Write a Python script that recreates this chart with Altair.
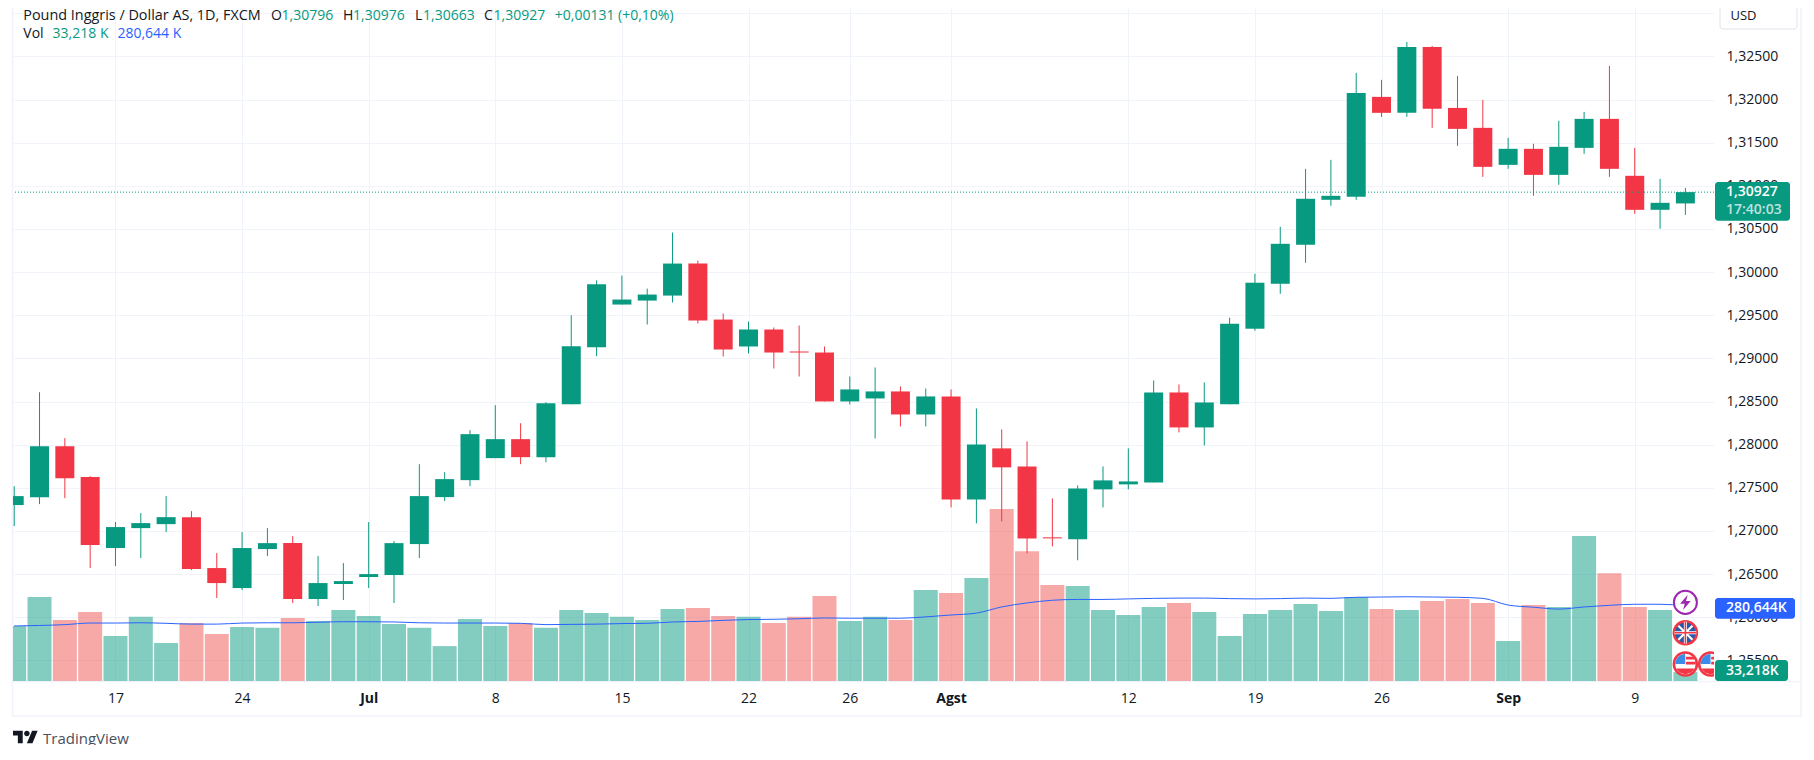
import altair as alt
import pandas as pd

opens = [1.27300,1.27392,1.27983,1.27624,1.26802,1.27033,1.27079,1.27160,1.26570,1.26338,1.26790,1.26859,1.26211,1.26385,1.26466,1.26489,1.26848,1.27392,1.27589,1.27844,1.28064,1.27855,1.28469,1.29129,
         1.29624,1.29670,1.29728,1.30099,1.29450,1.29138,1.29335,1.29080,1.29068,1.28501,1.28536,1.28617,1.28350,1.28559,1.27366,1.27957,1.27748,1.26926,1.26903,1.27482,1.27540,1.27563,1.28605,1.28200,
         1.28469,1.29344,1.29865,1.30317,1.30838,1.30873,1.32031,1.31846,1.32610,1.31903,1.31672,1.31243,1.31429,1.31127,1.31440,1.31776,1.31116,1.30722,1.30796]
highs = [1.27519,1.28608,1.28075,1.27635,1.27103,1.27207,1.27404,1.27230,1.26744,1.26987,1.27033,1.26940,1.26709,1.26628,1.27103,1.26883,1.27774,1.27682,1.28168,1.28457,1.28249,1.28492,1.29500,1.29905,
         1.29960,1.29809,1.30458,1.30134,1.29520,1.29427,1.29358,1.29381,1.29138,1.28790,1.28895,1.28675,1.28651,1.28640,1.28420,1.28177,1.28038,1.27378,1.27528,1.27748,1.27957,1.28744,1.28698,1.28721,
         1.29472,1.29981,1.30525,1.31197,1.31301,1.32309,1.32228,1.32668,1.32621,1.32274,1.31996,1.31556,1.31487,1.31753,1.31857,1.32390,1.31440,1.31081,1.30976]
lows = [1.27056,1.27311,1.27380,1.26570,1.26593,1.26686,1.26987,1.26547,1.26223,1.26315,1.26709,1.26165,1.26130,1.26199,1.26338,1.26165,1.26686,1.27346,1.27519,1.27844,1.27774,1.27797,1.28469,1.29025,
        1.29624,1.29393,1.29647,1.29404,1.29022,1.29057,1.28883,1.28790,1.28501,1.28466,1.28072,1.28211,1.28211,1.27273,1.27088,1.27111,1.26741,1.26822,1.26660,1.27273,1.27482,1.27563,1.28142,1.27991,
        1.28469,1.29321,1.29749,1.30108,1.30768,1.30838,1.31799,1.31799,1.31672,1.31463,1.31104,1.31197,1.30884,1.31012,1.31371,1.31104,1.30676,1.30502,1.30663]
closes = [1.27404,1.27983,1.27612,1.26836,1.27045,1.27091,1.27160,1.26558,1.26396,1.26802,1.26859,1.26211,1.26396,1.26419,1.26500,1.26859,1.27404,1.27601,1.28122,1.28064,1.27855,1.28481,1.29141,1.29859,
          1.29682,1.29740,1.30099,1.29439,1.29103,1.29335,1.29068,1.29068,1.28501,1.28640,1.28617,1.28350,1.28559,1.27366,1.28003,1.27737,1.26914,1.26914,1.27493,1.27586,1.27574,1.28605,1.28200,1.28489,
          1.29402,1.29877,1.30328,1.30850,1.30884,1.32077,1.31846,1.32610,1.31892,1.31660,1.31220,1.31429,1.31127,1.31452,1.31776,1.31197,1.30722,1.30803,1.30927]
volumes = [205,313,227,257,168,239,142,216,175,201,198,235,224,265,242,212,198,130,231,205,216,198,265,253,
           239,227,268,272,242,239,216,239,317,224,239,227,339,328,384,641,484,358,354,265,246,276,291,257,
           168,250,265,287,261,313,268,265,298,306,291,149,283,276,540,402,276,265,33.218]
vol_ma = [205,207,210,216,216,217,215,212,212,216,217,217,219,221,221,220,217,216,216,216,215,210,211,212,
          214,215,220,222,226,229,230,232,235,234,234,234,239,246,253,276,291,301,304,304,306,308,309,309,
          307,306,307,309,308,312,313,314,313,312,308,283,275,268,276,282,286,286,280.644]

tick_idx = [4,9,14,19,24,29,33,37,44,49,54,59,64]
tick_txt = ["17","24","Jul","8","15","22","26","Agst","12","19","26","Sep","9"]
month_idx = [14,37,59]
price_ticks = [1.255,1.26,1.265,1.27,1.275,1.28,1.285,1.29,1.295,1.30,1.305,1.31,1.315,1.32,1.325,1.33]
last_price = 1.30927

GREEN, RED, BLUE, INK, LINE = "#089981", "#F23645", "#2962FF", "#131722", "#F0F3FA"
VOL_RED = "#EF5350"
FONT = "Open Sans"
BODY_HALF, VOL_HALF = 0.375, 0.474

df = pd.DataFrame({"i": range(len(opens)), "o": opens, "h": highs, "l": lows, "c": closes,
                   "v": volumes, "ma": vol_ma})
df["col"] = [GREEN if c >= o else RED for o, c in zip(opens, closes)]
df["vcol"] = [GREEN if c >= o else VOL_RED for o, c in zip(opens, closes)]
df["bl"], df["br"] = df["i"] - BODY_HALF, df["i"] + BODY_HALF
df["vl"], df["vr"] = df["i"] - VOL_HALF, df["i"] + VOL_HALF
df["v0"] = 0

W, H = 1701, 673
xs = alt.Scale(domain=[-0.0474, 67.13], nice=False, zero=False)
ys = alt.Scale(domain=[1.25261, 1.33061], nice=False, zero=False)
vs = alt.Scale(domain=[0, 2508.3], nice=False, zero=False)
X = alt.X("i:Q", scale=xs, axis=None)

lab_map = "{" + ",".join(f"{k}:'{v}'" for k, v in zip(tick_idx, tick_txt)) + "}"
month_test = "||".join(f"datum.value=={m}" for m in month_idx)
x_axis = alt.Axis(values=tick_idx, labelExpr=f"{lab_map}[datum.value]", title=None, domain=False, ticks=False,
                  grid=True, gridColor=LINE, gridWidth=1, labelFont=FONT, labelFontSize=14, labelColor=INK,
                  labelPadding=10, labelFlush=False, labelOverlap=False,
                  labelFontWeight={"condition": {"test": month_test, "value": 700}, "value": 400})
y_axis = alt.Axis(values=price_ticks, orient="right", title=None, domain=False, ticks=False, grid=True,
                  gridColor=LINE, gridWidth=1, labelFont=FONT, labelFontSize=14, labelColor=INK,
                  labelPadding=12, labelAlign="left", labelOverlap=False, labelFlush=False,
                  labelExpr="datum.value>1.329?'':replace(format(datum.value,'.5f'),'.',',')")

base = alt.Chart(df)
axes = base.mark_rule(opacity=0).encode(alt.X("i:Q", scale=xs, axis=x_axis),
                                        alt.Y("l:Q", scale=ys, axis=y_axis), y2="h:Q")
vol = base.mark_bar(opacity=0.5, clip=True).encode(
    alt.X("vl:Q", scale=xs, axis=None), x2="vr:Q",
    y=alt.Y("v:Q", scale=vs, axis=None), y2="v0:Q", color=alt.Color("vcol:N", scale=None))
ma = base.mark_line(color=BLUE, strokeWidth=1, interpolate="monotone", clip=True).encode(
    X, alt.Y("ma:Q", scale=vs, axis=None))
wick = base.mark_rule(strokeWidth=1, clip=True).encode(X, alt.Y("l:Q", scale=ys, axis=None), y2="h:Q",
                                                       color=alt.Color("col:N", scale=None))
body = base.mark_bar(clip=True).encode(
    alt.X("bl:Q", scale=xs, axis=None), x2="br:Q",
    y=alt.Y("o:Q", scale=ys, axis=None), y2="c:Q", color=alt.Color("col:N", scale=None))
dots = alt.Chart(pd.DataFrame({"p": [last_price]})).mark_rule(color=GREEN, strokeWidth=1, strokeDash=[1, 2]).encode(
    alt.Y("p:Q", scale=ys, axis=None))


def icon(i_list, yk, shape, fill, size, **kw):
    d = pd.DataFrame({"i": i_list, "y": [yk] * len(i_list)})
    return alt.Chart(d).mark_point(shape=shape, filled=True, fill=fill, size=size, clip=True, opacity=1, **kw).encode(
        X, alt.Y("y:Q", scale=vs, axis=None))


BOLT = "M0.22,-0.72L-0.5,0.12L-0.06,0.12L-0.22,0.72L0.5,-0.12L0.06,-0.12Z"
UK_W = ("M-0.14,-1L0.14,-1L0.14,-0.14L1,-0.14L1,0.14L0.14,0.14L0.14,1L-0.14,1L-0.14,0.14L-1,0.14L-1,-0.14L-0.14,-0.14Z"
        "M-0.72,-0.58L-0.58,-0.72L0.72,0.58L0.58,0.72ZM0.58,-0.72L0.72,-0.58L-0.58,0.72L-0.72,0.58Z")
UK_R = ("M-0.07,-1L0.07,-1L0.07,-0.07L1,-0.07L1,0.07L0.07,0.07L0.07,1L-0.07,1L-0.07,0.07L-1,0.07L-1,-0.07L-0.07,-0.07Z")
US_B = "M-0.02,-0.98L-0.02,-0.02L-0.98,-0.02A0.98,0.98 0 0 1 -0.02,-0.98Z"
US_R = ("M0.05,-0.72L0.75,-0.72L0.9,-0.45L0.05,-0.45ZM0.05,-0.22L0.98,-0.22L1,0.03L0.05,0.03Z"
        "M-0.87,0.42L0.87,0.42A0.98,0.98 0 0 1 -0.87,0.42Z")

icons = [
    icon([66], 293, "circle", "white", 530, stroke="#9C27B0", strokeWidth=2),
    icon([66], 293, BOLT, "#9C27B0", 450),
    icon([66], 180, "circle", "#2A5AA8", 530, stroke=RED, strokeWidth=2.5),
    icon([66], 180, UK_W, "white", 470),
    icon([66], 180, UK_R, RED, 470),
    icon([66, 67], 63, "circle", "white", 530, stroke=RED, strokeWidth=2.5),
    icon([66, 67], 63, US_B, "#3D8BE8", 430),
    icon([66, 67], 63, US_R, RED, 430),
]

# Page furniture in plot pixels
rects = pd.DataFrame([
    (1707, 1784, -12, 21, "white", "#E0E3EB", 1),
    (1702, 1777, 174, 212.7, GREEN, GREEN, 0),
    (1702, 1782, 590, 610.7, BLUE, BLUE, 0),
    (1702, 1775, 652, 673, GREEN, GREEN, 0),
], columns=["x1", "x2", "y1", "y2", "fill", "line", "sw"])
PX = lambda c: alt.X(f"{c}:Q", scale=None, axis=None)
PY = lambda c: alt.Y(f"{c}:Q", scale=None, axis=None)
rect = alt.Chart(rects).mark_rect(cornerRadius=3).encode(
    PX("x1"), x2="x2:Q", y=PY("y1"), y2="y2:Q", fill=alt.Fill("fill:N", scale=None),
    stroke=alt.Stroke("line:N", scale=None), strokeWidth=alt.StrokeWidth("sw:Q", scale=None))

frame = pd.DataFrame([
    (-0.5, -0.5, 0, 708), (1788, 1788, 0, 708), (-1, 1789, 708, 708), (0, 1788, 673.5, 673.5)
], columns=["x1", "x2", "y1", "y2"])
frames = alt.Chart(frame).mark_rule(color=LINE, strokeWidth=1.6).encode(PX("x1"), x2="x2:Q", y=PY("y1"), y2="y2:Q")

HY = 7.5
texts = pd.DataFrame([
    (10.3, HY, "Pound Inggris / Dollar AS, 1D, FXCM", INK, 14.4),
    (257.9, HY, "O", INK, 14), (268.5, HY, "1,30796", GREEN, 14),
    (330, HY, "H", INK, 14), (340, HY, "1,30976", GREEN, 14),
    (402, HY, "L", INK, 14), (410, HY, "1,30663", GREEN, 14),
    (471, HY, "C", INK, 14), (480.5, HY, "1,30927", GREEN, 14),
    (541.8, HY, "+0,00131 (+0,10%)", GREEN, 14),
    (10.3, 25.5, "Vol", INK, 14), (39.6, 25.5, "33,218 K", GREEN, 14), (104.4, 25.5, "280,644 K", BLUE, 14),
    (1717.5, HY, "USD", INK, 13),
    (30, 731, "TradingView", "#4A4F5E", 15),
], columns=["x", "y", "t", "c", "fs"])
text = alt.Chart(texts).mark_text(align="left", baseline="middle", font=FONT).encode(
    PX("x"), PY("y"), text="t:N", color=alt.Color("c:N", scale=None), size=alt.Size("fs:Q", scale=None))
bold_texts = pd.DataFrame([
    (1713, 183.7, "1,30927", "#FFFFFF", 1),
    (1713, 202, "17:40:03", "#FFFFFF", 0.72),
    (1713, 600.3, "280,644K", "#FFFFFF", 1),
    (1713, 662.5, "33,218K", "#FFFFFF", 1),
], columns=["x", "y", "t", "c", "a"])
btext = alt.Chart(bold_texts).mark_text(align="left", baseline="middle", font=FONT, fontSize=14, fontWeight=600).encode(
    PX("x"), PY("y"), text="t:N", color=alt.Color("c:N", scale=None), opacity=alt.Opacity("a:Q", scale=None))

LOGO = ("M-0.222,0.5L-0.611,0.5L-0.611,-0.111L-1,-0.111L-1,-0.5L-0.222,-0.5Z"
        "M0.556,0.5L0.111,0.5L0.528,-0.5L0.972,-0.5Z"
        "M-0.111,-0.278a0.222,0.222 0 1,0 0.444,0a0.222,0.222 0 1,0 -0.444,0Z")
logo = alt.Chart(pd.DataFrame({"x": [12.5], "y": [729]})).mark_point(
    shape=LOGO, filled=True, fill=INK, size=625, opacity=1).encode(PX("x"), PY("y"))

chart = alt.layer(axes, frames, vol, ma, wick, body, dots, *icons, rect, text, btext, logo).resolve_scale(
    x="independent", y="independent", color="independent", fill="independent", stroke="independent",
    strokeWidth="independent", opacity="independent", size="independent"
).properties(width=W, height=H, background="white",
             autosize=alt.AutoSizeParams(type="none"),
             padding={"left": 5, "top": 0, "right": 92, "bottom": 64}
).configure_view(stroke=None)

chart.save("out.html", embed_options={"renderer": "svg", "actions": False})
